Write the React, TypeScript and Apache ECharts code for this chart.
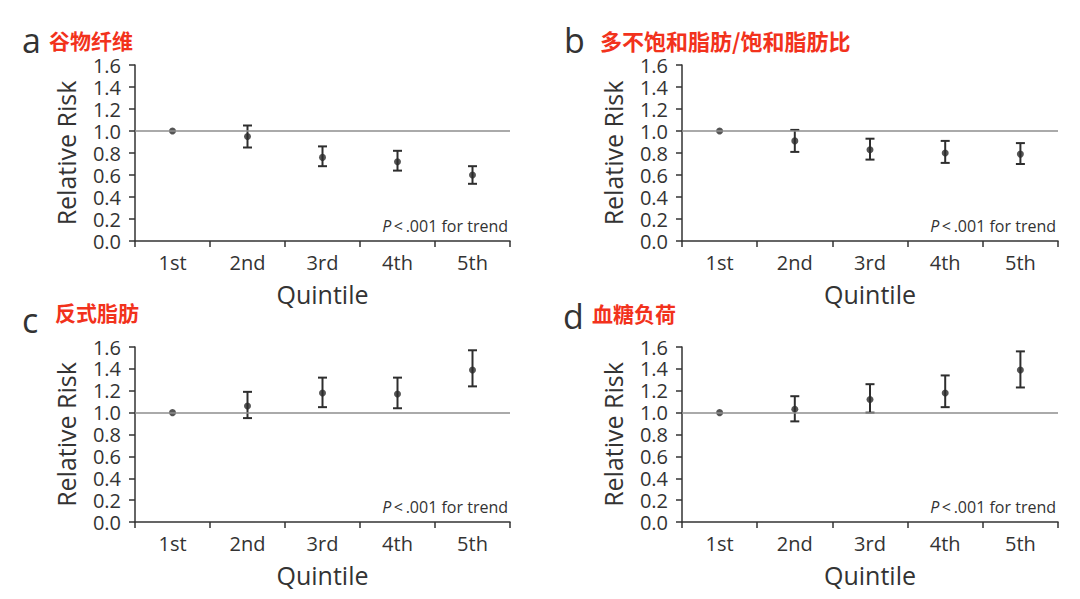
import React, { useEffect, useRef } from "react";
import * as echarts from "echarts";

// ---- data ----
const quintiles = ["1st", "2nd", "3rd", "4th", "5th"];
const panelLetters = ["a", "b", "c", "d"];
const panelTitles = ["谷物纤维", "多不饱和脂肪/饱和脂肪比", "反式脂肪", "血糖负荷"];
const yTicks = [0, 0.2, 0.4, 0.6, 0.8, 1.0, 1.2, 1.4, 1.6];

const rrCerealFiber = [1.0, 0.95, 0.76, 0.72, 0.6];
const lowCerealFiber = [null, 0.85, 0.68, 0.64, 0.52];
const highCerealFiber = [null, 1.05, 0.86, 0.82, 0.68];

const rrPufaSfa = [1.0, 0.91, 0.83, 0.8, 0.79];
const lowPufaSfa = [null, 0.81, 0.74, 0.71, 0.7];
const highPufaSfa = [null, 1.01, 0.93, 0.91, 0.89];

const rrTransFat = [1.0, 1.06, 1.18, 1.17, 1.39];
const lowTransFat = [null, 0.95, 1.05, 1.04, 1.24];
const highTransFat = [null, 1.19, 1.32, 1.32, 1.57];

const rrGlycemicLoad = [1.0, 1.03, 1.12, 1.18, 1.39];
const lowGlycemicLoad = [null, 0.92, 1.0, 1.05, 1.23];
const highGlycemicLoad = [null, 1.15, 1.26, 1.34, 1.56];

const referenceRR = 1.0;

const panelRR = [rrCerealFiber, rrPufaSfa, rrTransFat, rrGlycemicLoad];
const panelLow = [lowCerealFiber, lowPufaSfa, lowTransFat, lowGlycemicLoad];
const panelHigh = [highCerealFiber, highPufaSfa, highTransFat, highGlycemicLoad];

// ---- layout / style ----
const FONT = "'Open Sans', 'Noto Sans', sans-serif";
const CJK = "'Noto Sans CJK SC', sans-serif";
const AXIS_COLOR = "#333333";
const TEXT_COLOR = "#333333";
const RED = "#f2321c";
const gridPos = [
  { left: 135, top: 65, width: 375, height: 176 },
  { left: 682, top: 65, width: 376, height: 176 },
  { left: 135, top: 347, width: 375, height: 175 },
  { left: 682, top: 347, width: 376, height: 175 },
];
const letterPos = [
  { x: 22, bottom: 57 },
  { x: 564, bottom: 57 },
  { x: 22, bottom: 337 },
  { x: 563, bottom: 333 },
];
const titlePos = [
  { x: 49, midY: 40, size: 21 },
  { x: 600, midY: 40, size: 22 },
  { x: 55, midY: 312, size: 21 },
  { x: 592, midY: 313, size: 21 },
];

export default function App() {
  const ref = useRef<HTMLDivElement>(null);
  useEffect(() => {
    if (!ref.current) return;
    const chart = echarts.init(ref.current, undefined, { renderer: "svg" });

    const grids: any[] = [];
    const xAxes: any[] = [];
    const yAxes: any[] = [];
    const series: any[] = [];
    const graphics: any[] = [];

    gridPos.forEach((g, i) => {
      grids.push({ ...g, containLabel: false });
      xAxes.push({
        type: "category",
        gridIndex: i,
        data: quintiles,
        boundaryGap: true,
        axisLine: { show: true, onZero: false, lineStyle: { color: AXIS_COLOR, width: 1.5 } },
        axisTick: { show: true, length: 6, alignWithLabel: false, lineStyle: { color: AXIS_COLOR, width: 1.5 } },
        axisLabel: { color: TEXT_COLOR, fontFamily: FONT, fontSize: 20, margin: 11 },
        name: "Quintile",
        nameLocation: "middle",
        nameGap: 40,
        nameTextStyle: { color: TEXT_COLOR, fontFamily: FONT, fontSize: 25 },
        splitLine: { show: false },
      });
      yAxes.push({
        type: "value",
        gridIndex: i,
        min: yTicks[0],
        max: yTicks[yTicks.length - 1],
        interval: 0.2,
        axisLine: { show: true, lineStyle: { color: AXIS_COLOR, width: 1.5 } },
        axisTick: { show: true, length: 6, lineStyle: { color: AXIS_COLOR, width: 1.5 } },
        axisLabel: {
          color: TEXT_COLOR,
          fontFamily: FONT,
          fontSize: 20,
          lineHeight: 18,
          margin: 14,
          formatter: (v: number) => v.toFixed(1),
        },
        splitLine: { show: false },
        name: "Relative Risk",
        nameLocation: "middle",
        nameGap: 57,
        nameTextStyle: { color: TEXT_COLOR, fontFamily: FONT, fontSize: 25 },
      });

      // reference line at RR = 1
      series.push({
        type: "line",
        xAxisIndex: i,
        yAxisIndex: i,
        data: [],
        z: 1,
        markLine: {
          silent: true,
          symbol: ["none", "none"],
          label: { show: false },
          lineStyle: { color: "#8e8e8e", width: 1.5, type: "solid" },
          data: [{ yAxis: referenceRR }],
        },
      });

      // error bars
      const ebData: any[] = [];
      panelLow[i].forEach((lo, k) => {
        const hi = panelHigh[i][k];
        if (lo != null && hi != null) ebData.push([k, lo, hi]);
      });
      series.push({
        type: "custom",
        xAxisIndex: i,
        yAxisIndex: i,
        z: 3,
        data: ebData,
        renderItem: (params: any, api: any) => {
          const idx = api.value(0);
          const top = api.coord([idx, api.value(2)]);
          const bot = api.coord([idx, api.value(1)]);
          const hw = 4.5;
          const style = { stroke: "#2e2e2e", lineWidth: 2 };
          return {
            type: "group",
            children: [
              { type: "line", shape: { x1: top[0], y1: top[1], x2: bot[0], y2: bot[1] }, style },
              { type: "line", shape: { x1: top[0] - hw, y1: top[1], x2: top[0] + hw, y2: top[1] }, style },
              { type: "line", shape: { x1: bot[0] - hw, y1: bot[1], x2: bot[0] + hw, y2: bot[1] }, style },
            ],
          };
        },
      });

      // point estimates
      series.push({
        type: "scatter",
        xAxisIndex: i,
        yAxisIndex: i,
        z: 4,
        symbol: "circle",
        symbolSize: 7,
        itemStyle: { color: "#2a2a2a" },
        data: panelRR[i],
      });

      // panel letter + title
      graphics.push({
        type: "text",
        x: letterPos[i].x,
        y: letterPos[i].bottom,
        style: {
          text: panelLetters[i],
          font: `34px ${FONT}`,
          fill: "#333333",
          verticalAlign: "bottom",
          lineHeight: 34,
        },
      });
      graphics.push({
        type: "text",
        x: titlePos[i].x,
        y: titlePos[i].midY,
        style: {
          text: panelTitles[i],
          font: `bold ${titlePos[i].size}px ${CJK}`,
          fill: RED,
          verticalAlign: "middle",
        },
      });

      // trend note
      graphics.push({
        type: "text",
        x: g.left + g.width - 2,
        y: g.top + g.height - 15,
        style: {
          text: "{p|P}\u2009<\u2009.001 for trend",
          fill: TEXT_COLOR,
          font: `16px ${FONT}`,
          align: "right",
          verticalAlign: "middle",
          rich: {
            p: { fontStyle: "italic", fontFamily: FONT, fontSize: 16, fill: TEXT_COLOR },
          },
        },
      });
    });

    chart.setOption({
      animation: false,
      backgroundColor: "#ffffff",
      grid: grids,
      xAxis: xAxes,
      yAxis: yAxes,
      series,
      graphic: graphics,
    });
    return () => chart.dispose();
  }, []);
  return (
    <div
      ref={ref}
      style={{ position: "fixed", left: 0, top: 0, width: 1080, height: 599, background: "#fff" }}
    />
  );
}
